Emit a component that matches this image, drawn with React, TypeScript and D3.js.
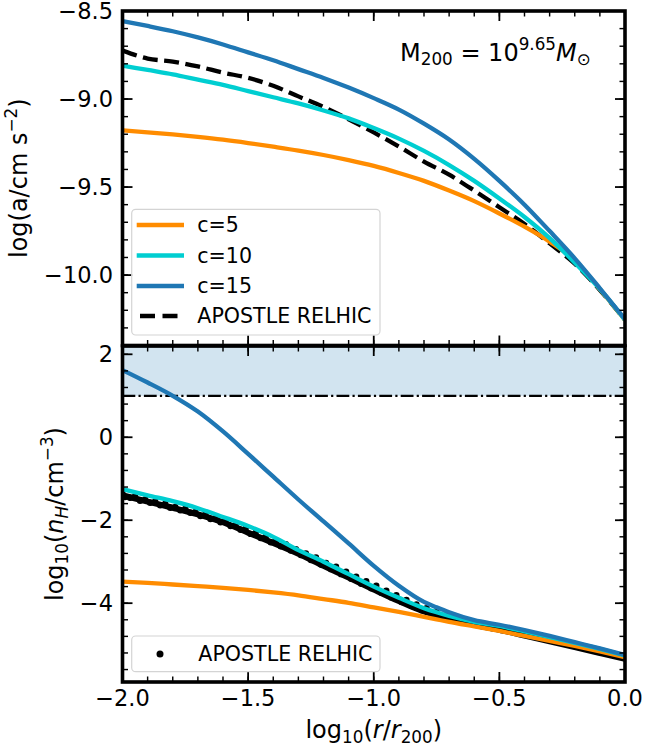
import React from 'react';
import * as d3 from 'd3';

const W = 646, H = 748;
const FONT = "'DejaVu Sans', sans-serif";

// ---------- top panel: log acceleration ----------
const rGrid = [-2.0, -1.9, -1.8, -1.7, -1.6, -1.5, -1.4, -1.3, -1.2, -1.1, -1.0, -0.9, -0.8, -0.7, -0.6, -0.5, -0.4, -0.3, -0.2, -0.1, 0.0];
const accC5 = [-9.178, -9.189, -9.201, -9.215, -9.231, -9.25, -9.271, -9.293, -9.318, -9.347, -9.38, -9.42, -9.465, -9.52, -9.58, -9.65, -9.725, -9.81, -9.915, -10.08, -10.255];
const accC10 = [-8.81, -8.835, -8.86, -8.89, -8.92, -8.955, -8.99, -9.025, -9.065, -9.11, -9.165, -9.225, -9.295, -9.375, -9.465, -9.565, -9.67, -9.79, -9.93, -10.08, -10.255];
const accC15 = [-8.557, -8.585, -8.615, -8.65, -8.69, -8.735, -8.78, -8.83, -8.88, -8.935, -8.995, -9.06, -9.14, -9.23, -9.34, -9.465, -9.6, -9.75, -9.905, -10.075, -10.25];
const accApostle = [-8.725, -8.77, -8.787, -8.815, -8.85, -8.88, -8.925, -8.985, -9.045, -9.115, -9.19, -9.27, -9.355, -9.43, -9.52, -9.615, -9.71, -9.82, -9.935, -10.085, -10.255];

// ---------- bottom panel: log nH ----------
const rGridB = [-2.0, -1.9, -1.8, -1.7, -1.6, -1.5, -1.4, -1.3, -1.2, -1.1, -1.0, -0.9, -0.8, -0.75, -0.7, -0.6, -0.5, -0.4, -0.3, -0.2, -0.1, 0.0];
const nhC15 = [1.62, 1.32, 1.0, 0.62, 0.14, -0.4, -0.95, -1.5, -2.03, -2.56, -3.1, -3.58, -3.97, -4.1, -4.22, -4.41, -4.52, -4.65, -4.79, -4.94, -5.09, -5.25];
const nhC10 = [-1.25, -1.4, -1.54, -1.71, -1.92, -2.14, -2.4, -2.72, -3.0, -3.3, -3.6, -3.87, -4.12, -4.22, -4.31, -4.45, -4.55, -4.68, -4.82, -4.96, -5.1, -5.26];
const nhC5 = [-3.48, -3.51, -3.55, -3.59, -3.63, -3.68, -3.74, -3.81, -3.9, -3.99, -4.1, -4.21, -4.33, -4.39, -4.45, -4.56, -4.67, -4.79, -4.91, -5.03, -5.16, -5.3];
const nhApostleLine = [-1.4, -1.55, -1.7, -1.86, -2.05, -2.3, -2.55, -2.81, -3.1, -3.38, -3.67, -3.95, -4.2, -4.29, -4.37, -4.52, -4.64, -4.78, -4.92, -5.06, -5.2, -5.34];

const apostleR = [-2.00, -1.99, -1.97, -1.95, -1.93, -1.91, -1.89, -1.87, -1.85, -1.83, -1.81, -1.79, -1.77, -1.75, -1.73, -1.71, -1.69, -1.67, -1.65, -1.63, -1.61, -1.59, -1.57, -1.55, -1.53, -1.51, -1.49, -1.47, -1.45, -1.43, -1.41, -1.39, -1.37, -1.35, -1.33, -1.31, -1.29, -1.27, -1.25, -1.23, -1.21, -1.19, -1.17, -1.15, -1.13, -1.11, -1.09, -1.07, -1.05, -1.03, -1.01, -0.99, -0.97, -0.95, -0.93, -0.91, -0.89, -0.87, -0.85, -0.83, -0.81, -0.79, -0.77, -0.75, -0.73, -0.71, -0.69, -0.67, -0.65, -0.63, -0.61, -0.59, -0.57, -0.55, -0.53, -0.51, -0.49, -0.47, -0.45];
const apostleNH = [-1.36, -1.44, -1.46, -1.42, -1.53, -1.50, -1.58, -1.55, -1.64, -1.60, -1.70, -1.68, -1.76, -1.72, -1.82, -1.80, -1.90, -1.86, -1.97, -1.95, -2.05, -2.03, -2.14, -2.12, -2.23, -2.20, -2.33, -2.30, -2.43, -2.40, -2.53, -2.49, -2.63, -2.58, -2.73, -2.70, -2.84, -2.80, -2.96, -2.90, -3.07, -3.03, -3.18, -3.12, -3.30, -3.24, -3.41, -3.36, -3.53, -3.47, -3.64, -3.58, -3.75, -3.70, -3.86, -3.81, -3.97, -3.92, -4.07, -4.03, -4.17, -4.12, -4.26, -4.22, -4.32, -4.29, -4.38, -4.35, -4.43, -4.41, -4.50, -4.52, -4.55, -4.56, -4.60, -4.60, -4.65, -4.64, -4.69];

const nhThreshold = 1.0;

// ticks
const xMajor = [-2.0, -1.5, -1.0, -0.5, 0.0];
const xMajorLabels = ['\u22122.0', '\u22121.5', '\u22121.0', '\u22120.5', '0.0'];
const topMajor = [-10.0, -9.5, -9.0, -8.5];
const topMajorLabels = ['\u221210.0', '\u22129.5', '\u22129.0', '\u22128.5'];
const botMajor = [-4, -2, 0, 2];
const botMajorLabels = ['\u22124', '\u22122', '0', '2'];

const legendTop = ['c=5', 'c=10', 'c=15', 'APOSTLE RELHIC'];
const COLORS = { c5: '#ff8c00', c10: '#00ced1', c15: '#1f77b4', apo: '#000000' };

const X0 = 122.5, X1 = 625;
const TOP_Y0 = 11, TOP_Y1 = 345.5, BOT_Y0 = 346, BOT_Y1 = 682;

const x = d3.scaleLinear().domain([-2, 0]).range([X0, X1]);
const yTop = d3.scaleLinear().domain([-10.4, -8.5]).range([TOP_Y1, TOP_Y0]);
const yBot = d3.scaleLinear().domain([-5.9, 2.2]).range([BOT_Y1, BOT_Y0]);

const xMinor = d3.range(-2, 0.0001, 0.1);
const topMinor = d3.range(-10.4, -8.49, 0.1);
const botMinor = d3.range(-5.6, 2.21, 0.4);

type Part = { t: string; sub?: boolean; sup?: boolean; it?: boolean };
function rich(parts: Part[], size: number) {
  let off = 0;
  return parts.map((p, i) => {
    const target = p.sub ? 0.2 * size : p.sup ? -0.42 * size : 0;
    const dy = target - off;
    off = target;
    return (
      <tspan key={i} dy={dy} fontSize={p.sub || p.sup ? size * 0.7 : size} fontStyle={p.it ? 'italic' : 'normal'}>
        {p.t}
      </tspan>
    );
  });
}

function Ticks({ yScale, y0, y1, major, minor }: any) {
  const els: any[] = [];
  const MJ = 10, MN = 5.5, SW = 1.8;
  xMajor.forEach((v, i) => {
    const px = x(v);
    els.push(<line key={'xb' + i} x1={px} x2={px} y1={y1} y2={y1 - MJ} stroke="#000" strokeWidth={SW} />);
    els.push(<line key={'xt' + i} x1={px} x2={px} y1={y0} y2={y0 + MJ} stroke="#000" strokeWidth={SW} />);
  });
  xMinor.forEach((v, i) => {
    const px = x(v);
    els.push(<line key={'xmb' + i} x1={px} x2={px} y1={y1} y2={y1 - MN} stroke="#000" strokeWidth={SW * 0.8} />);
    els.push(<line key={'xmt' + i} x1={px} x2={px} y1={y0} y2={y0 + MN} stroke="#000" strokeWidth={SW * 0.8} />);
  });
  major.forEach((v: number, i: number) => {
    const py = yScale(v);
    els.push(<line key={'yl' + i} x1={X0} x2={X0 + MJ} y1={py} y2={py} stroke="#000" strokeWidth={SW} />);
    els.push(<line key={'yr' + i} x1={X1} x2={X1 - MJ} y1={py} y2={py} stroke="#000" strokeWidth={SW} />);
  });
  minor.forEach((v: number, i: number) => {
    const py = yScale(v);
    els.push(<line key={'yml' + i} x1={X0} x2={X0 + MN} y1={py} y2={py} stroke="#000" strokeWidth={SW * 0.8} />);
    els.push(<line key={'ymr' + i} x1={X1} x2={X1 - MN} y1={py} y2={py} stroke="#000" strokeWidth={SW * 0.8} />);
  });
  return <g>{els}</g>;
}

export default function App() {
  const lineTop = (ys: number[]) =>
    d3.line<number>().x((_, i) => x(rGrid[i])).y((d) => yTop(d)).curve(d3.curveMonotoneX)(ys) || '';
  const lineBot = (ys: number[]) =>
    d3.line<number>().x((_, i) => x(rGridB[i])).y((d) => yBot(d)).curve(d3.curveMonotoneX)(ys) || '';

  const TICK_FS = 22.5;
  const LAB_FS = 24;
  const LEG_FS = 20.6;
  const LW = 4.3;

  const legY = [225, 255.5, 286, 316];
  const legColors = [COLORS.c5, COLORS.c10, COLORS.c15, COLORS.apo];

  return (
    <svg width={W} height={H} viewBox={`0 0 ${W} ${H}`} style={{ position: 'absolute', left: 0, top: 0, background: '#fff' }} fontFamily={FONT}>
      <defs>
        <clipPath id="clipTop"><rect x={X0} y={TOP_Y0} width={X1 - X0} height={TOP_Y1 - TOP_Y0} /></clipPath>
        <clipPath id="clipBot"><rect x={X0} y={BOT_Y0} width={X1 - X0} height={BOT_Y1 - BOT_Y0} /></clipPath>
      </defs>
      <rect x={0} y={0} width={W} height={H} fill="#fff" />

      {/* TOP PANEL */}
      <g clipPath="url(#clipTop)">
        <path d={lineTop(accApostle)} fill="none" stroke={COLORS.apo} strokeWidth={LW} strokeDasharray="15,6.5" />
        <path d={lineTop(accC5)} fill="none" stroke={COLORS.c5} strokeWidth={LW} />
        <path d={lineTop(accC10)} fill="none" stroke={COLORS.c10} strokeWidth={LW} />
        <path d={lineTop(accC15)} fill="none" stroke={COLORS.c15} strokeWidth={LW} />
      </g>
      <Ticks yScale={yTop} y0={TOP_Y0} y1={TOP_Y1} major={topMajor} minor={topMinor} />
      <rect x={X0} y={TOP_Y0} width={X1 - X0} height={TOP_Y1 - TOP_Y0} fill="none" stroke="#000" strokeWidth={3.6} />
      {topMajor.map((v, i) => (
        <text key={'tl' + i} x={113} y={yTop(v) + 8.2} textAnchor="end" fontSize={TICK_FS}>{topMajorLabels[i]}</text>
      ))}
      <text transform={`translate(27,${(TOP_Y0 + TOP_Y1) / 2}) rotate(-90)`} textAnchor="middle" fontSize={LAB_FS}>
        {rich([{ t: 'log(a/cm s' }, { t: '\u22122', sup: true }, { t: ')' }], LAB_FS)}
      </text>
      <text x={400} y={60.5} fontSize={24}>
        {rich([{ t: 'M' }, { t: '200', sub: true }, { t: ' = 10' }, { t: '9.65', sup: true }, { t: 'M', it: true }, { t: '\u2299', sub: true }], 24)}
      </text>

      {/* top legend */}
      <rect x={131.7} y={209.3} width={248.3} height={125.7} rx={4} fill="#fff" fillOpacity={0.8} stroke="#d4d4d4" strokeWidth={1.2} />
      {legendTop.map((lab, i) => (
        <g key={'lg' + i}>
          {i < 3 ? (
            <line x1={136.7} x2={184} y1={legY[i]} y2={legY[i]} stroke={legColors[i]} strokeWidth={LW} />
          ) : (
            <line x1={140} x2={180} y1={legY[i]} y2={legY[i]} stroke={legColors[i]} strokeWidth={LW} strokeDasharray="15,7.5" />
          )}
          <text x={197.3} y={legY[i] + 7.4} fontSize={LEG_FS}>{lab}</text>
        </g>
      ))}

      {/* BOTTOM PANEL */}
      <g clipPath="url(#clipBot)">
        <rect x={X0} y={yBot(2.2)} width={X1 - X0} height={yBot(nhThreshold) - yBot(2.2)} fill={COLORS.c15} fillOpacity={0.2} />
        <line x1={X0} x2={X1} y1={yBot(nhThreshold)} y2={yBot(nhThreshold)} stroke="#000" strokeWidth={2.2} strokeDasharray="12.8,3.2,2.2,3.2" />
        <path d={lineBot(nhApostleLine)} fill="none" stroke="#000" strokeWidth={6} />
        {apostleR.map((r, i) => (
          <circle key={'sc' + i} cx={x(r)} cy={yBot(apostleNH[i])} r={3.2} fill="#000" />
        ))}
        <path d={lineBot(nhC5)} fill="none" stroke={COLORS.c5} strokeWidth={LW} />
        <path d={lineBot(nhC10)} fill="none" stroke={COLORS.c10} strokeWidth={LW} />
        <path d={lineBot(nhC15)} fill="none" stroke={COLORS.c15} strokeWidth={LW} />
      </g>
      <Ticks yScale={yBot} y0={BOT_Y0} y1={BOT_Y1} major={botMajor} minor={botMinor} />
      <rect x={X0} y={BOT_Y0} width={X1 - X0} height={BOT_Y1 - BOT_Y0} fill="none" stroke="#000" strokeWidth={3.6} />
      {botMajor.map((v, i) => (
        <text key={'bl' + i} x={113} y={yBot(v) + 8.2} textAnchor="end" fontSize={TICK_FS}>{botMajorLabels[i]}</text>
      ))}
      {xMajor.map((v, i) => (
        <text key={'xl' + i} x={x(v)} y={706} textAnchor="middle" fontSize={TICK_FS}>{xMajorLabels[i]}</text>
      ))}
      <text transform={`translate(63,${(BOT_Y0 + BOT_Y1) / 2}) rotate(-90)`} textAnchor="middle" fontSize={LAB_FS}>
        {rich([{ t: 'log' }, { t: '10', sub: true }, { t: '(' }, { t: 'n', it: true }, { t: 'H', sub: true, it: true }, { t: '/cm' }, { t: '\u22123', sup: true }, { t: ')' }], LAB_FS)}
      </text>
      <text x={(X0 + X1) / 2} y={738} textAnchor="middle" fontSize={LAB_FS}>
        {rich([{ t: 'log' }, { t: '10', sub: true }, { t: '(' }, { t: 'r', it: true }, { t: '/' }, { t: 'r', it: true }, { t: '200', sub: true }, { t: ')' }], LAB_FS)}
      </text>

      {/* bottom legend */}
      <rect x={131.7} y={636} width={248.3} height={35.7} rx={4} fill="#fff" fillOpacity={0.8} stroke="#d4d4d4" strokeWidth={1.2} />
      <circle cx={160} cy={654} r={3.5} fill="#000" />
      <text x={198.3} y={654 + 7.4} fontSize={LEG_FS}>APOSTLE RELHIC</text>
    </svg>
  );
}
